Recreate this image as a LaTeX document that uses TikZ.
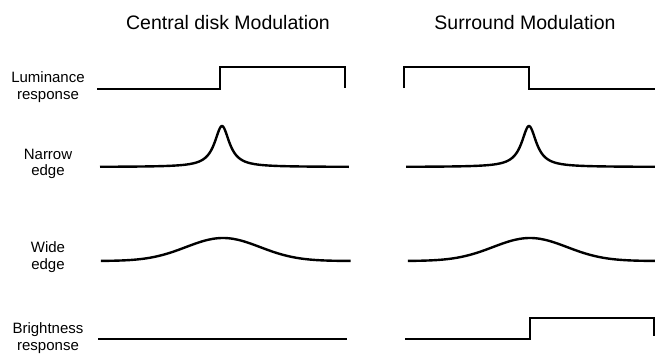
\documentclass[tikz,border=0pt]{standalone}
\usepackage{fontspec}
\setmainfont{Liberation Sans}
\begin{document}
\begin{tikzpicture}[x=1pt,y=-1pt,
  curve/.style={line width=2.4pt,line join=miter,line cap=butt},
  title/.style={font=\fontsize{19.5}{23}\selectfont,inner sep=0pt},
  lab/.style={font=\fontsize{15}{16.5}\selectfont,align=center,inner sep=0pt}]
\useasboundingbox[fill=white] (0,0) rectangle (655,354);
% titles
\node[title] (t1) at (228,23) {Central disk Modulation};
\node[title] (t2) at (525,23) {Surround Modulation};
% row labels
\node[lab] (l1) at (48,87) {Luminance\\response};
\node[lab] (l2) at (48,164) {Narrow\\edge};
\node[lab] (l3) at (48,257) {Wide\\edge};
\node[lab] (l4) at (48,338) {Brightness\\response};
% luminance
\draw[curve] (97,89) -- (220,89) -- (220,67) -- (345,67) -- (345,88);
\draw[curve] (404,88) -- (404,67) -- (529,67) -- (529,89) -- (655,89);
% narrow edge
\draw[curve] plot[domain=-12.2:12.7,samples=300,smooth] ({222+10*\x},{167-41*0.81/(\x*\x+0.81)});
\draw[curve] plot[domain=-12.3:12.6,samples=300,smooth] ({529+10*\x},{167-41*0.81/(\x*\x+0.81)});
% wide edge
\draw[curve] plot[domain=-3.3:3.45,samples=200,smooth] ({223+37*\x},{261-23*exp(-\x*\x/2)});
\draw[curve] plot[domain=-3.3:3.4,samples=200,smooth] ({530+37*\x},{261-23*exp(-\x*\x/2)});
% brightness
\draw[curve] (98,339) -- (347,339);
\draw[curve] (405,339) -- (530,339) -- (530,318) -- (654.5,318) -- (654.5,336);
\end{tikzpicture}
\end{document}
